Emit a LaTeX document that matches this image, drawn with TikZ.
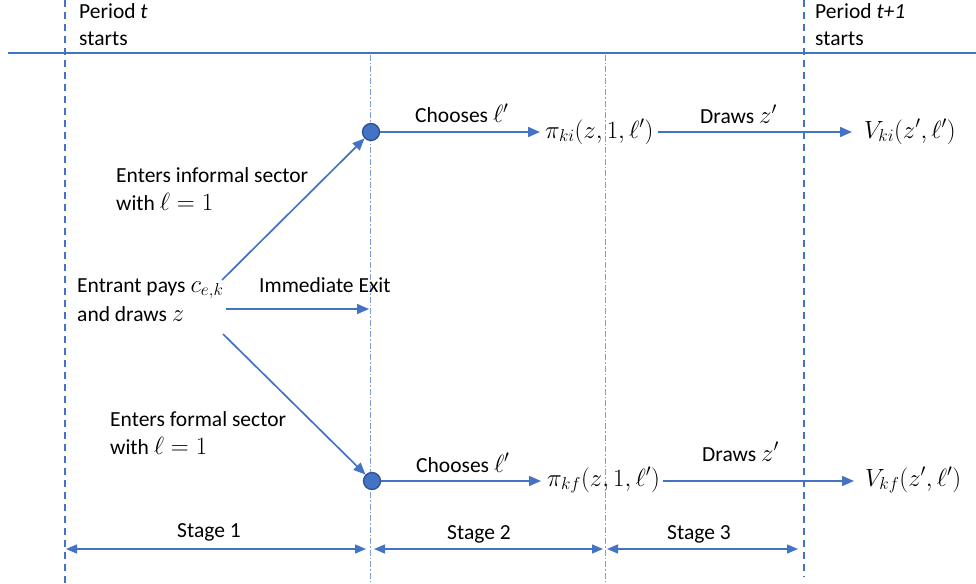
\documentclass[tikz,border=0pt]{standalone}
\usepackage{fontspec}
\setmainfont{Carlito}
\usetikzlibrary{arrows.meta}
\definecolor{ob}{HTML}{4472C4}
\definecolor{obd}{HTML}{2F528F}
\definecolor{obl}{HTML}{7FA0DA}
\newcommand\mth[1]{{\fontsize{24}{27}\selectfont$#1$}}
\begin{document}
\begin{tikzpicture}[x=1pt,y=-1pt,
  txt/.style={anchor=base west,inner sep=0pt,font=\fontsize{21.5}{27}\selectfont,text=black},
  arr/.style={draw=ob,line width=1.7pt,-{Triangle[length=12pt,width=10pt]}},
  twoarr/.style={draw=ob,line width=1.4pt,{Triangle[length=11pt,width=9pt]}-{Triangle[length=11pt,width=9pt]}},
  period/.style={draw=ob,line width=1.8pt,dash pattern=on 7pt off 5pt},
  stagesep/.style={draw=obl,line width=0.8pt,dash pattern=on 6pt off 2pt on 1.5pt off 2pt},
  dot/.style={circle,minimum size=17pt,inner sep=0pt,fill=ob,draw=obd,line width=1.3pt}]
\useasboundingbox (0,0) rectangle (976,583);

% frame lines
\coordinate (hl) at (8,53);
\coordinate (hr) at (976,53);
\draw[draw=ob,line width=1.8pt] (hl) -- (hr);
\coordinate (p1t) at (65,0);
\coordinate (p1b) at (65,583);
\coordinate (p2t) at (804,0);
\coordinate (p2b) at (804,577);
\draw[period] (p1t) -- (p1b);
\draw[period] (p2t) -- (p2b);
\coordinate (s1t) at (370,55);
\coordinate (s1b) at (370,583);
\coordinate (s2t) at (605,55);
\coordinate (s2b) at (605,583);
\draw[stagesep] (s1t) -- (s1b);
\draw[stagesep] (s2t) -- (s2b);

% period labels
\node[txt] (pt1) at (79,19) {Period \textit{t}};
\node[txt] (pt2) at (79,46) {starts};
\node[txt] (pn1) at (815,19) {Period \textit{t+1}};
\node[txt] (pn2) at (815,46) {starts};

% entrant
\node[txt] (en1) at (77,292) {Entrant pays \mth{c_{e,k}}};
\node[txt] (en2) at (77,321) {and draws \mth{z}};

% decision dots
\node[dot] (c1) at (371,132) {};
\node[dot] (c2) at (372,481) {};

% branches
\coordinate (d1) at (222,280);
\coordinate (d2) at (223,334);
\draw[arr] (d1) -- (c1);
\draw[arr] (d2) -- (c2);
\node[txt] (inf1) at (116,182) {Enters informal sector};
\node[txt] (inf2) at (116,210) {with \mth{\ell = 1}};
\node[txt] (for1) at (110,426) {Enters formal sector};
\node[txt] (for2) at (110,454) {with \mth{\ell = 1}};

\coordinate (ex1) at (226,309);
\coordinate (ex2) at (369,309);
\draw[arr] (ex1) -- (ex2);
\node[txt] (exl) at (259,292) {Immediate Exit};

% informal row
\node[txt] (pki) at (545,138) {\mth{\pi_{ki}(z,1,\ell')}};
\node[txt] (vki) at (864,138) {\mth{V_{ki}(z',\ell')}};
\draw[arr,shorten >=5pt] (c1) -- (c1 -| pki.west);
\draw[arr,shorten <=4pt,shorten >=12pt] (pki.east |- c1) -- (vki.west |- c1);
\node[txt] (ch1) at (415,123) {Chooses \mth{\ell'}};
\node[txt] (dr1) at (700,124) {Draws \mth{z'}};

% formal row
\node[txt] (pkf) at (547,486) {\mth{\pi_{kf}(z,1,\ell')}};
\node[txt] (vkf) at (865,486) {\mth{V_{kf}(z',\ell')}};
\draw[arr,shorten >=6pt] (c2) -- (c2 -| pkf.west);
\draw[arr,shorten <=3pt,shorten >=11pt] (pkf.east |- c2) -- (vkf.west |- c2);
\node[txt] (ch2) at (416,472) {Chooses \mth{\ell'}};
\node[txt] (dr2) at (702,461) {Draws \mth{z'}};

% stages
\coordinate (a1) at (66,549);
\coordinate (b1) at (366,549);
\coordinate (a2) at (374,549);
\coordinate (b2) at (603,549);
\coordinate (a3) at (607,549);
\coordinate (b3) at (798,549);
\draw[twoarr] (a1) -- (b1);
\draw[twoarr] (a2) -- (b2);
\draw[twoarr] (a3) -- (b3);
\node[txt] (st1) at (177,537) {Stage 1};
\node[txt] (st2) at (447,539) {Stage 2};
\node[txt] (st3) at (667,539) {Stage 3};
\end{tikzpicture}
\end{document}
